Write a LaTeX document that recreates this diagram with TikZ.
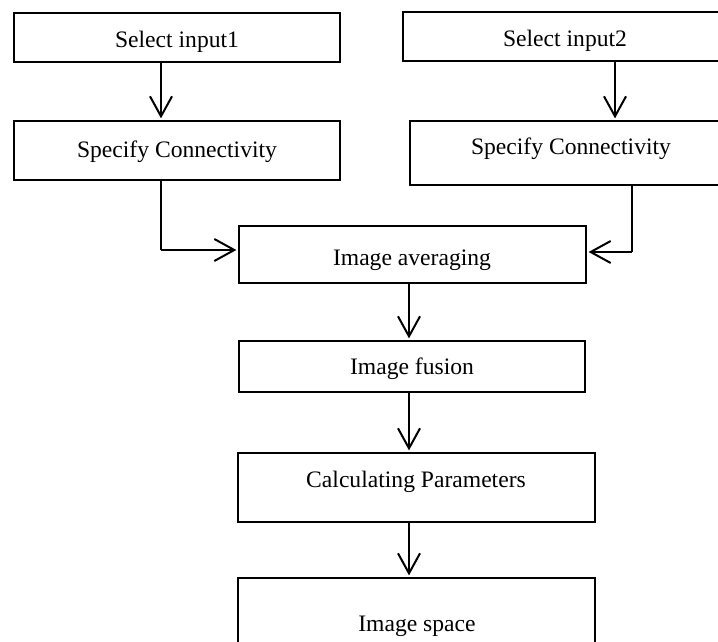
\documentclass[tikz,border=0pt]{standalone}
\usepackage{fontspec}
\setmainfont{Liberation Serif}
\usetikzlibrary{arrows.meta,fit,calc}

\tikzset{
  box/.style={draw=black, line width=0.6pt, inner sep=0pt, fill=white},
  boxthick/.style={box, line width=0.9pt},
  lbl/.style={anchor=base, inner sep=0pt, font=\fontsize{11.8}{14}\selectfont},
  arr/.style={line width=1pt, -{Straight Barb[length=10pt,width=11pt,line width=1pt]}, shorten >=1pt},
  thinline/.style={line width=0.6pt},
}

\begin{document}
\begin{tikzpicture}[x=0.5pt, y=-0.5pt]
  \useasboundingbox (0,0) rectangle (718,642);
  \clip (0,0) rectangle (718,642);

  % boxes
  \node[boxthick, fit={(14,13) (340,62)}] (b1) {};
  \node[box, fit={(14,121) (340,180)}] (b2) {};
  \node[box, fit={(403,12) (728,61)}] (b3) {};
  \node[box, fit={(410,121) (732,185)}] (b4) {};
  \node[box, fit={(239,226) (586,283)}] (b5) {};
  \node[box, fit={(239,341) (585,392)}] (b6) {};
  \node[box, fit={(238,453) (595,522)}] (b7) {};
  \node[box, fit={(238,578) (595,680)}] (b8) {};

  % labels
  \node[lbl] (t1) at (177,48) {Select input1};
  \node[lbl] (t2) at (177,157) {Specify Connectivity};
  \node[lbl] (t3) at (565,47) {Select input2};
  \node[lbl] (t4) at (571,155) {Specify Connectivity};
  \node[lbl] (t5) at (412,265) {Image averaging};
  \node[lbl] (t6) at (412,374) {Image fusion};
  \node[lbl] (t7) at (416,487) {Calculating Parameters};
  \node[lbl] (t8) at (417,631) {Image space};

  % connector guide columns and elbow points
  \coordinate (cl) at (161,0);
  \coordinate (cr) at (615,0);
  \coordinate (cm) at (409,0);
  \coordinate (ecl) at (161,250);
  \coordinate (ecr) at (632,252);

  % straight arrows
  \draw[arr] (b1.south -| cl) -- (b2.north -| cl);
  \draw[arr] (b3.south -| cr) -- (b4.north -| cr);
  \draw[arr] (b5.south -| cm) -- (b6.north -| cm);
  \draw[arr] (b6.south -| cm) -- (b7.north -| cm);
  \draw[arr] (b7.south -| cm) -- (b8.north -| cm);

  % elbow connectors into the averaging box
  \draw[thinline] (b2.south -| ecl) -- (ecl);
  \draw[arr] (ecl) -- (b5.west |- ecl);
  \draw[thinline] (b4.south -| ecr) -- (ecr);
  \draw[arr] (ecr) -- (b5.east |- ecr);
\end{tikzpicture}
\end{document}
